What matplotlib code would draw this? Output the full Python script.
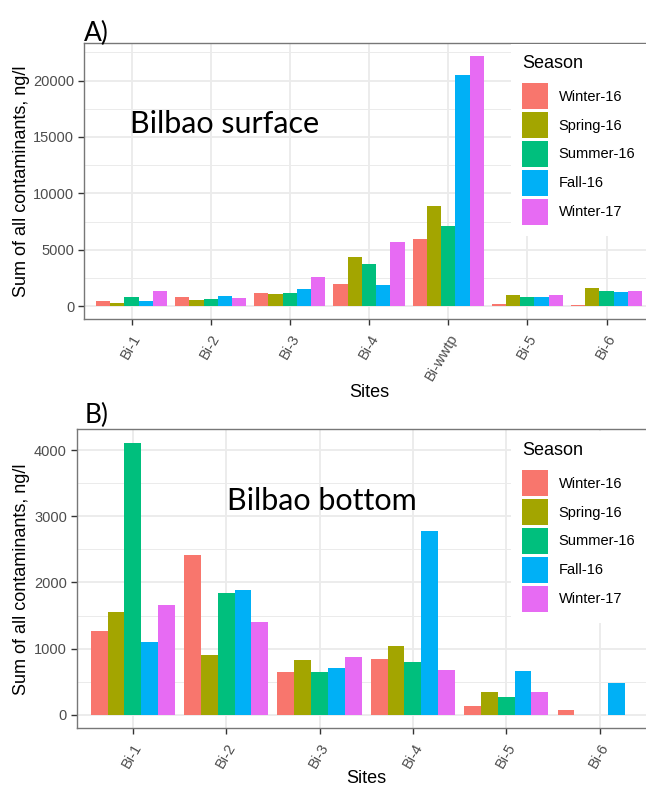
import numpy as np
import matplotlib
matplotlib.use("Agg")
import matplotlib.pyplot as plt
from matplotlib.ticker import MultipleLocator

seasons = ["Winter-16", "Spring-16", "Summer-16", "Fall-16", "Winter-17"]
colors = ["#F8766D", "#A3A500", "#00BF7D", "#00B0F6", "#E76BF3"]

surface_sites = ["Bi-1", "Bi-2", "Bi-3", "Bi-4", "Bi-wwtp", "Bi-5", "Bi-6"]
surface_winter16 = [500, 880, 1200, 1960, 6010, 205, 150]
surface_spring16 = [350, 560, 1140, 4340, 8850, 1000, 1670]
surface_summer16 = [850, 645, 1230, 3750, 7090, 880, 1380]
surface_fall16 = [500, 940, 1550, 1875, 20450, 820, 1320]
surface_winter17 = [1400, 760, 2580, 5690, 22210, 1055, 1350]

bottom_sites = ["Bi-1", "Bi-2", "Bi-3", "Bi-4", "Bi-5", "Bi-6"]
bottom_winter16 = [1273, 2409, 639, 850, 126, 70]
bottom_spring16 = [1549, 905, 825, 1046, 347, np.nan]
bottom_summer16 = [4110, 1836, 652, 790, 262, np.nan]
bottom_fall16 = [1102, 1881, 704, 2777, 664, 478]
bottom_winter17 = [1665, 1398, 870, 679, 347, np.nan]

W, H = 646, 787
GG_FONT = ["Liberation Sans", "DejaVu Sans"]
NOTE_FONT = ["Lato", "DejaVu Sans"]


def draw_panel(fig, rect_px, sites, series, ylim, major, minor, legend_px, xlabel_base):
    left, top, right, bottom = rect_px
    ax = fig.add_axes([left / W, 1 - bottom / H, (right - left) / W, (bottom - top) / H])
    x = np.arange(len(sites))
    width = 0.18
    handles = []
    for i, (vals, col) in enumerate(zip(series, colors)):
        b = ax.bar(x + (i - 2) * width, vals, width=width, color=col, zorder=3)
        handles.append(b)
    ax.set_xlim(-0.6, len(sites) - 0.4)
    ax.set_ylim(*ylim)
    ax.yaxis.set_major_locator(MultipleLocator(major))
    ax.yaxis.set_minor_locator(MultipleLocator(minor))
    ax.set_xticks(x)
    ax.set_xticklabels(sites, rotation=60, ha="right", va="top", rotation_mode="anchor",
                       family=GG_FONT, fontsize=10.5, color="#4D4D4D")
    for lab in ax.get_yticklabels():
        lab.set_family(GG_FONT)
    ax.tick_params(axis="y", labelsize=10.5, labelcolor="#4D4D4D", length=4, width=1, color="#333333", pad=3)
    ax.tick_params(axis="x", length=4, width=1, color="#333333", pad=5)
    ax.tick_params(which="minor", length=0)
    ax.grid(which="major", color="#EBEBEB", lw=1.3, zorder=0)
    ax.grid(which="minor", axis="y", color="#EBEBEB", lw=0.7, zorder=0)
    ax.set_axisbelow(True)
    for s in ax.spines.values():
        s.set_color("#777777")
        s.set_linewidth(1)
    ax.set_ylabel("Sum of all contaminants, ng/l", family=GG_FONT, fontsize=13)
    ax.yaxis.set_label_coords(30 / W, 1 - (top + bottom) / 2 / H, transform=fig.transFigure)
    ax.set_xlabel("Sites", family=GG_FONT, fontsize=13, va="baseline")
    ax.xaxis.set_label_coords((left + right) / 2 / W, 1 - xlabel_base / H, transform=fig.transFigure)

    leg = ax.legend(handles, seasons, title="Season", loc="upper left",
                    bbox_to_anchor=(legend_px[0] / W, 1 - legend_px[1] / H),
                    bbox_transform=fig.transFigure, borderaxespad=0,
                    frameon=True, fancybox=False, facecolor="white", edgecolor="none",
                    framealpha=1, handlelength=1.78, handleheight=2.37, labelspacing=0.2,
                    handletextpad=0.75, borderpad=0.75, alignment="left",
                    prop={"family": GG_FONT, "size": 10.5},
                    title_fontproperties={"family": GG_FONT, "size": 13})
    leg._legend_box.sep = 8
    leg.set_zorder(5)
    return ax


fig = plt.figure(figsize=(W / 100, H / 100), dpi=100)

draw_panel(fig, (84, 43, 654, 319), surface_sites,
           [surface_winter16, surface_spring16, surface_summer16, surface_fall16, surface_winter17],
           (-1110, 23320), 5000, 2500, (511, 44), 397)
draw_panel(fig, (76.7, 429.3, 655.7, 728.3), bottom_sites,
           [bottom_winter16, bottom_spring16, bottom_summer16, bottom_fall16, bottom_winter17],
           (-205, 4315), 1000, 500, (511, 431), 783)

fig.text(84 / W, 1 - 41 / H, "A)", family=NOTE_FONT, fontsize=19, va="baseline", ha="left")
fig.text(85 / W, 1 - 423 / H, "B)", family=NOTE_FONT, fontsize=19, va="baseline", ha="left")
fig.text(130 / W, 1 - 132.7 / H, "Bilbao surface", family=NOTE_FONT, fontsize=22, va="baseline", ha="left")
fig.text(226.7 / W, 1 - 510 / H, "Bilbao bottom", family=NOTE_FONT, fontsize=22, va="baseline", ha="left")

fig.savefig("out.png", dpi=100)
